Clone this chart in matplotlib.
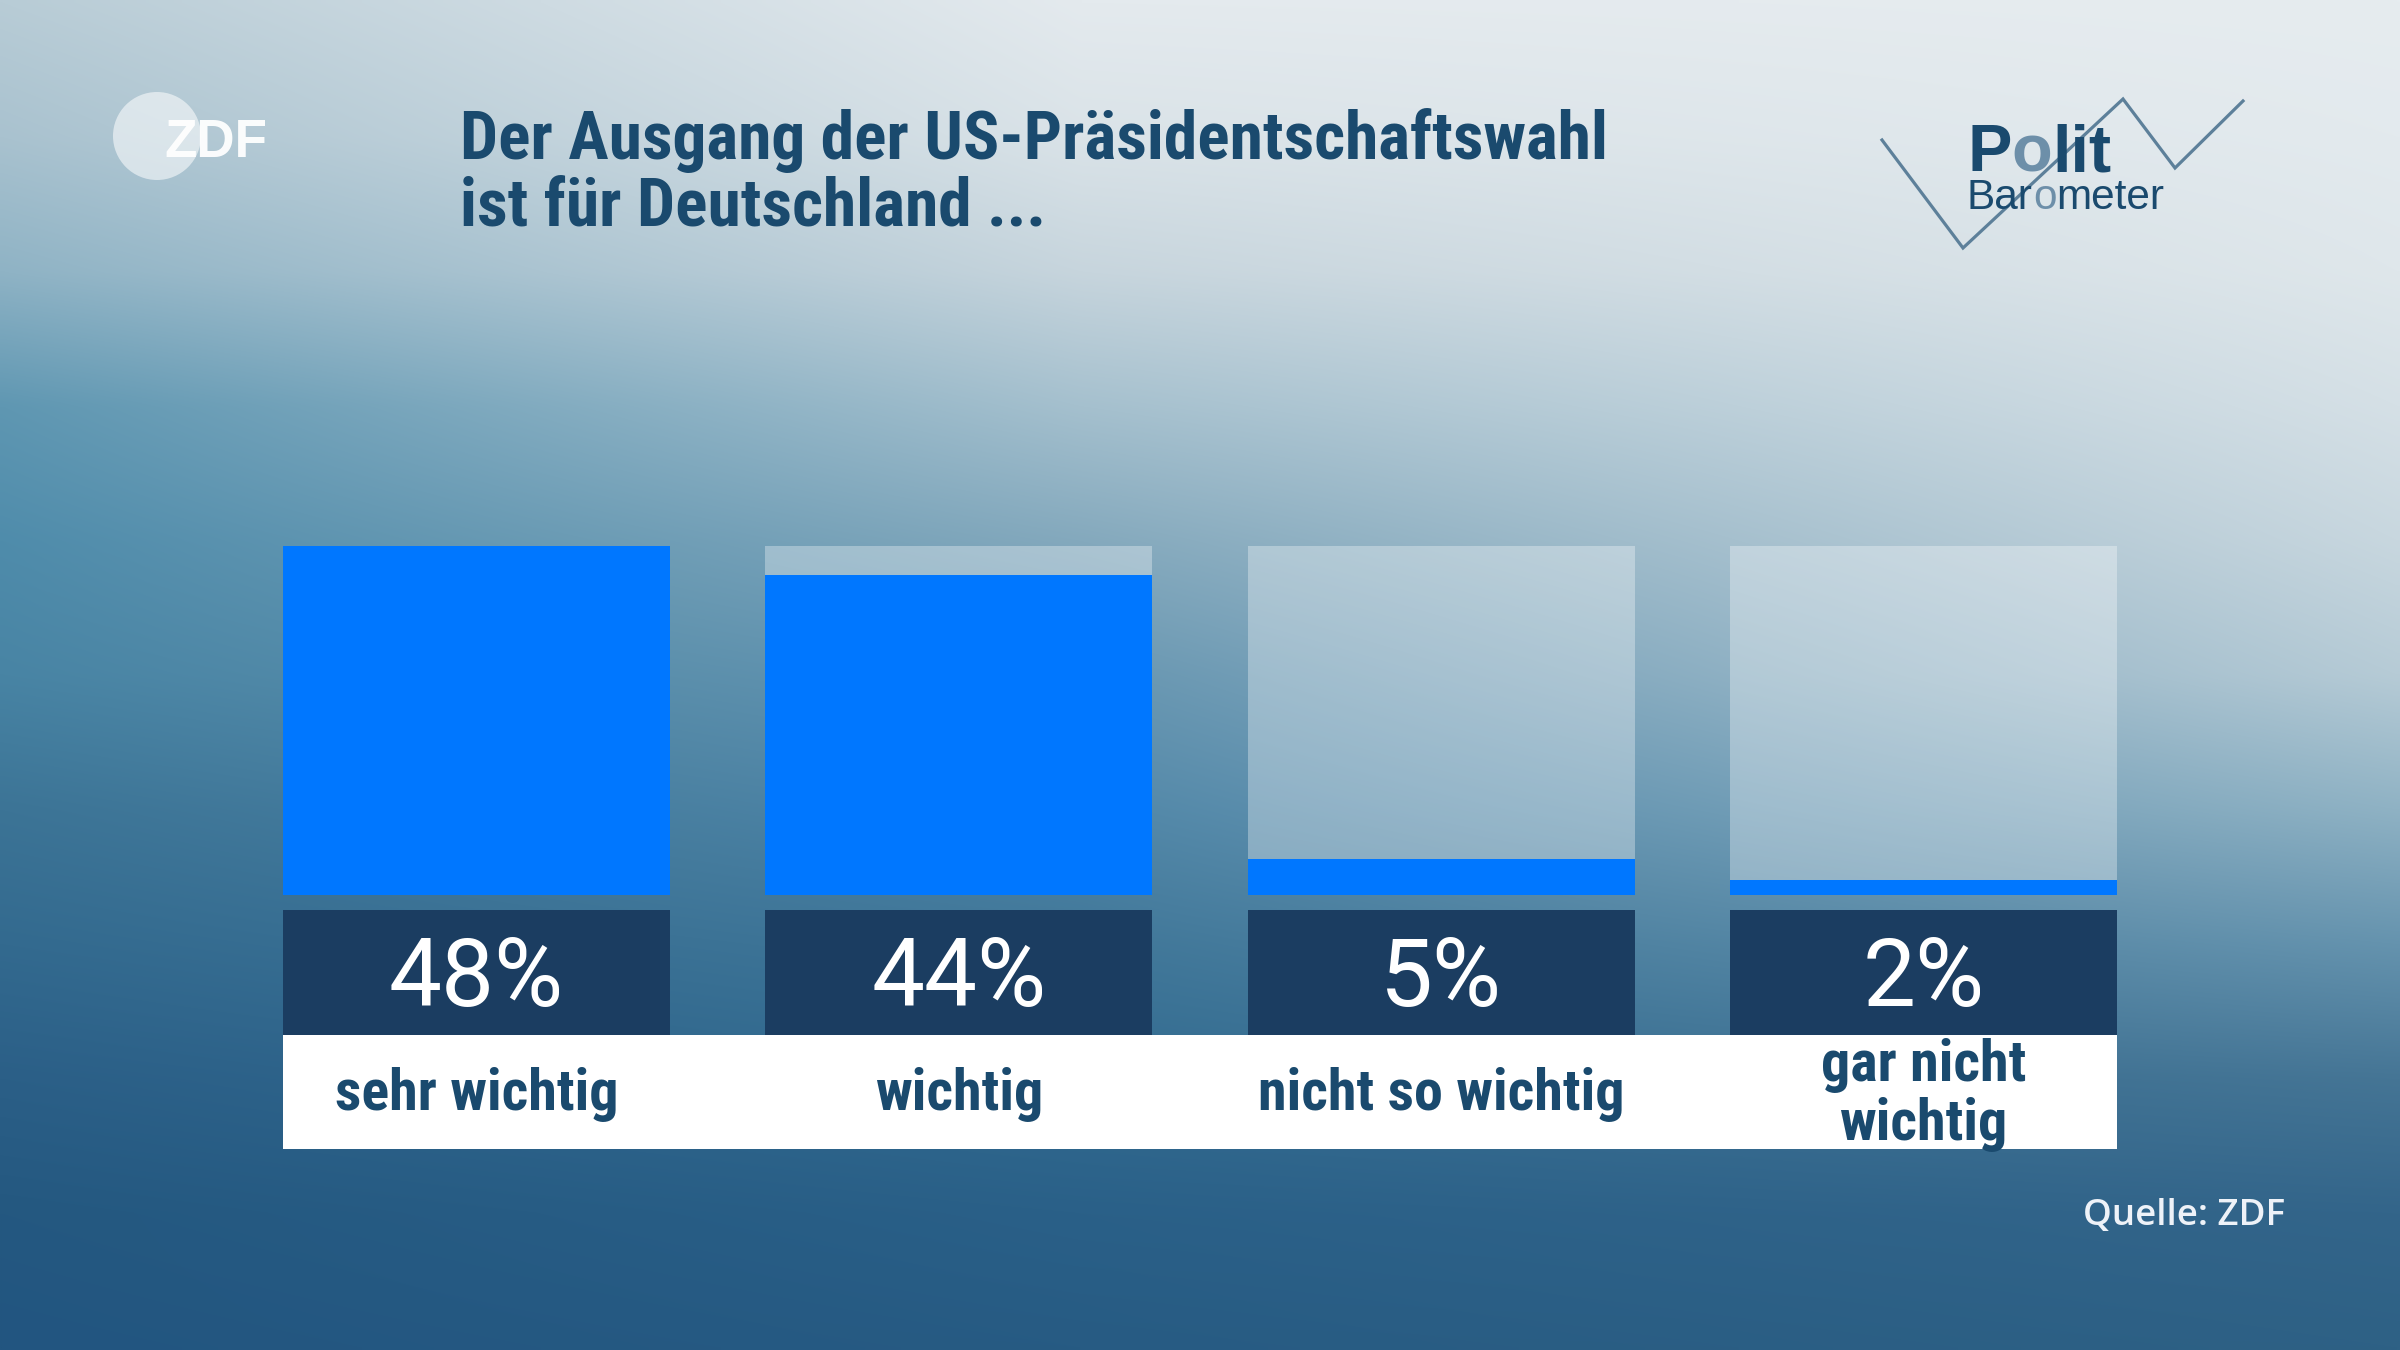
import numpy as np
import matplotlib
matplotlib.use("Agg")
import matplotlib.pyplot as plt
from matplotlib import font_manager
from matplotlib.colors import to_rgb
from matplotlib.patches import Circle

# data
categories = ["sehr wichtig", "wichtig", "nicht so wichtig", "gar nicht\nwichtig"]
values = [48, 44, 5, 2]
value_labels = ["48%", "44%", "5%", "2%"]
title_lines = ["Der Ausgang der US-Präsidentschaftswahl", "ist für Deutschland ..."]
source = "Quelle: ZDF"

W, H = 2400, 1350

installed = {f.name for f in font_manager.fontManager.ttflist}


def pick(*names):
    for n in names:
        if n in installed:
            return n
    return "DejaVu Sans"


NARROW = pick("Liberation Sans Narrow", "Roboto Condensed", "Open Sans Condensed", "Roboto")
ARIAL = pick("Liberation Sans", "Roboto")
ROBOTO = pick("Roboto", "Open Sans", "Liberation Sans")
OPEN = pick("Open Sans", "Noto Sans", "Roboto")

DARK_TXT = "#1a4a6e"
BLUE = "#0077ff"
BOX = "#1b3d61"

fig = plt.figure(figsize=(24, 13.5), dpi=100)
renderer = fig.canvas.get_renderer()


def fit_size(text, target_w, **kw):
    t = fig.text(0, 0, text, fontsize=50, **kw)
    w = t.get_window_extent(renderer).width
    t.remove()
    return 50 * target_w / w


# background gradient (three vertical colour profiles, blended across x)
prof_y = [0.0, 0.1, 0.2, 0.3, 0.4, 0.5, 0.6, 0.7, 0.8, 0.9, 1.0]
left_col = ["#b8ccd6", "#a9c2cf", "#8fb3c5", "#5f97b2", "#4f8cab", "#4884a4",
            "#3c7496", "#336a8f", "#2b5f87", "#245880", "#225580"]
mid_col = ["#e4eaee", "#dae3e8", "#c7d5dd", "#a5c0ce", "#84a9bd", "#6796b1",
           "#5187a8", "#407799", "#326b90", "#2a6088", "#275b83"]
right_col = ["#e6ecef", "#e3eaee", "#dfe7eb", "#d5e0e6", "#c8d7df", "#b6cbd6",
             "#8fb2c4", "#6593ae", "#457595", "#33658a", "#2e6185"]
col_x = [0.0, 0.45, 1.0]

gy = np.linspace(0, 1, 270)
gx = np.linspace(0, 1, 480)
cols = []
for c in (left_col, mid_col, right_col):
    rgb = np.array([to_rgb(h) for h in c])
    cols.append(np.stack([np.interp(gy, prof_y, rgb[:, k]) for k in range(3)], axis=1))
cols = np.array(cols)  # 3 x ny x 3
grad = np.zeros((len(gy), len(gx), 3))
for k in range(3):
    for j in range(len(gy)):
        grad[j, :, k] = np.interp(gx, col_x, cols[:, j, k])

bg = fig.add_axes([0, 0, 1, 1])
bg.set_xlim(0, W)
bg.set_ylim(H, 0)
bg.axis("off")
bg.imshow(grad, extent=[0, W, H, 0], aspect="auto", interpolation="bilinear", zorder=0)

# title
tsize = fit_size(title_lines[0], 1150, family=NARROW, weight="bold")
bg.text(460, 159, title_lines[0], fontsize=tsize, family=NARROW, weight="bold",
        color=DARK_TXT, va="baseline", ha="left")
bg.text(460, 226, title_lines[1], fontsize=tsize, family=NARROW, weight="bold",
        color=DARK_TXT, va="baseline", ha="left")

# ZDF logo
bg.add_patch(Circle((157, 136), 44, color="white", alpha=0.55, lw=0, zorder=2))
zsize = fit_size("ZDF", 103, family=ARIAL, weight="bold")
bg.text(164, 157, "ZDF", fontsize=zsize, family=ARIAL, weight="bold",
        color="white", alpha=0.95, va="baseline", ha="left", zorder=3)

# Politbarometer logo
zig_x = [1882, 1963, 2123, 2175, 2243]
zig_y = [140, 248, 99, 168, 101]
bg.plot(zig_x, zig_y, color="#5d809a", lw=2.3, solid_joinstyle="miter", zorder=2)


def colored_word(x, y, parts, size, weight):
    for s, c in parts:
        t = bg.text(x, y, s, fontsize=size, family=ARIAL, weight=weight, color=c,
                    va="baseline", ha="left", zorder=3)
        x += t.get_window_extent(renderer).width


LIGHT_O = "#6d8fa9"
colored_word(1967, 171, [("P", DARK_TXT), ("o", LIGHT_O), ("lit", DARK_TXT)], 48, "bold")
colored_word(1967, 209, [("Bar", DARK_TXT), ("o", LIGHT_O), ("meter", DARK_TXT)], 30.5, "normal")

# bars
n = len(values)
pitch = 482
bw = 387 / pitch
half = bw / 2
xs = np.arange(n)
x0, x1 = 283, 2117
track_top, track_bot = 546, 895

ax = fig.add_axes([x0 / W, 1 - track_bot / H, (x1 - x0) / W, (track_bot - track_top) / H])
ax.patch.set_alpha(0)
ax.bar(xs, [max(values)] * n, width=bw, color="white", alpha=0.32, lw=0)
ax.bar(xs, values, width=bw, color=BLUE, lw=0)
ax.set_xlim(-half, n - 1 + half)
ax.set_ylim(0, max(values))
ax.axis("off")

# value boxes and category labels
box_top, box_bot, lab_bot = 910, 1035, 1149
lab = fig.add_axes([x0 / W, 1 - lab_bot / H, (x1 - x0) / W, (lab_bot - box_top) / H])
lab.patch.set_alpha(0)
lab.set_xlim(-half, n - 1 + half)
lab.set_ylim(lab_bot, box_top)
lab.axis("off")
lab.bar(xs, box_bot - box_top, bottom=box_top, width=bw, color=BOX, lw=0)
lab.axhspan(box_bot, lab_bot, color="white", lw=0)

psize = fit_size("48%", 175, family=ROBOTO)
csize = fit_size("sehr wichtig", 284, family=NARROW, weight="bold")
for i in range(n):
    lab.text(xs[i], 980, value_labels[i], fontsize=psize, family=ROBOTO,
             color="white", ha="center", va="center")
    lab.text(xs[i], 1095, categories[i], fontsize=csize, family=NARROW, weight="bold",
             color=DARK_TXT, ha="center", va="center", linespacing=1.1)

# source
ssize = fit_size(source, 203, family=OPEN, weight="semibold")
bg.text(2285, 1225, source, fontsize=ssize, family=OPEN, weight="semibold",
        color="#eef2f8", ha="right", va="baseline")

fig.savefig("out.png", dpi=100)
